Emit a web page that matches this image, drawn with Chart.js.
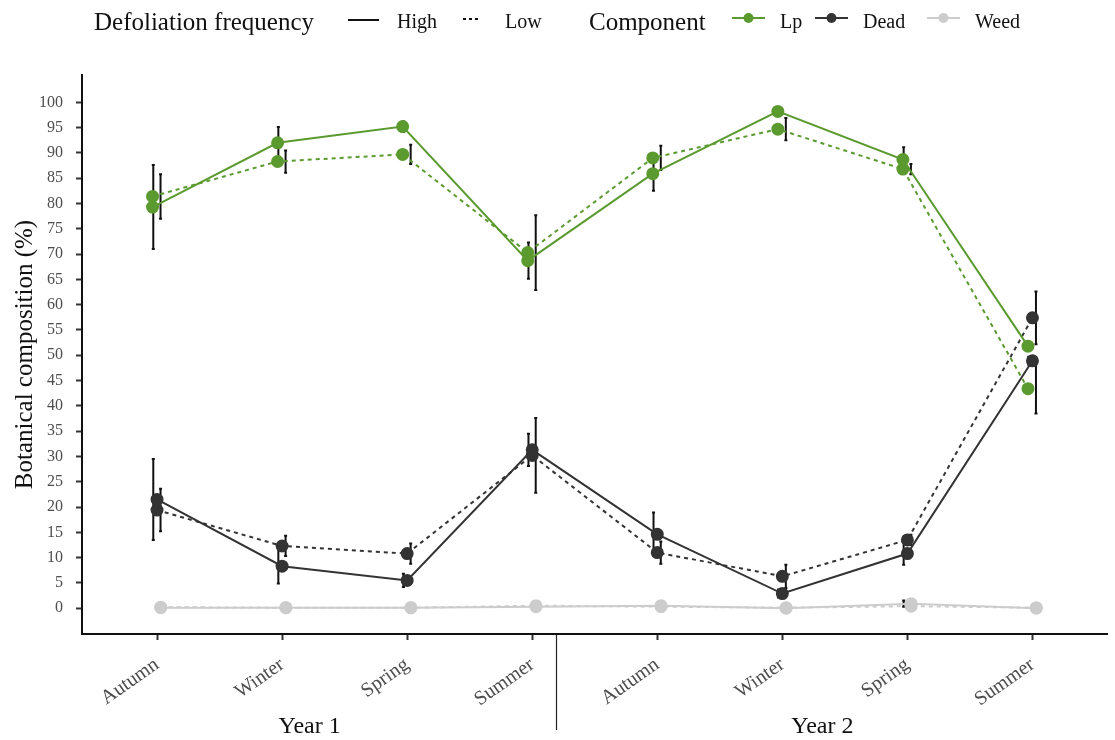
<!DOCTYPE html>
<html>
<head>
<meta charset="utf-8">
<title>Botanical composition</title>
<script src="https://cdn.jsdelivr.net/npm/chart.js@4.4.1/dist/chart.umd.min.js"></script>
<style>
  html, body { margin: 0; padding: 0; background: #fff; }
  canvas { display: block; }
</style>
</head>
<body>
<canvas id="c" width="1115" height="740"></canvas>
<script>
// Season labels along the x axis, and the year that each block of four belongs to
const seasons = ['Autumn', 'Winter', 'Spring', 'Summer', 'Autumn', 'Winter', 'Spring', 'Summer'];
const years = ['Year 1', 'Year 2'];
const yTicks = [0, 5, 10, 15, 20, 25, 30, 35, 40, 45, 50, 55, 60, 65, 70, 75, 80, 85, 90, 95, 100];

// Botanical composition (%) by component and defoliation frequency
const lpHigh   = [79.3, 92.0, 95.2, 68.7, 85.9, 98.2, 88.7, 51.8];
const lpLow    = [81.4, 88.3, 89.7, 70.3, 89.0, 94.7, 86.8, 43.4];
const deadHigh = [21.5, 8.3, 5.5, 31.3, 14.6, 2.9, 10.8, 48.9];
const deadLow  = [19.4, 12.3, 10.8, 30.2, 11.0, 6.3, 13.5, 57.4];
const weedHigh = [0.1, 0.1, 0.1, 0.3, 0.5, 0.0, 0.9, 0.0];
const weedLow  = [0.2, 0.1, 0.1, 0.5, 0.3, 0.1, 0.4, 0.1];

// Standard errors (half-length of each error bar)
const lpHighErr   = [8.3, 3.1, 1.0, 3.6, 3.4, 0.8, 2.4, 0.8];
const lpLowErr    = [4.4, 2.2, 1.9, 7.4, 2.4, 2.2, 1.0, 4.9];
const deadHighErr = [8.0, 3.4, 1.3, 3.2, 4.3, 0.8, 2.2, 0.8];
const deadLowErr  = [4.2, 2.0, 2.0, 7.4, 2.2, 2.3, 1.0, 5.2];
const weedHighErr = [0, 0, 0, 0, 0, 0, 0.6, 0];
const weedLowErr  = [0, 0, 0, 0, 0, 0, 0, 0];

const components = ['Lp', 'Dead', 'Weed'];
const frequencies = ['High', 'Low'];

const GREEN = '#5b9a2f';
const DARK = '#333333';
const LIGHT = '#cccccc';
const SERIF = '"Liberation Serif", "DejaVu Serif", serif';
const TICK_GREY = '#4d4d4d';

// small horizontal dodge so overlapping groups stay visible
const pointDodge = { Lp: -0.036, Dead: 0.0, Weed: 0.03 };
const barDodge = { High: -0.03, Low: 0.028 };

function makeSeries(values, errs, comp, freq, color) {
  return {
    label: comp + ' ' + freq,
    comp: comp,
    freq: freq,
    errs: errs,
    data: values.map((v, i) => ({ x: i + pointDodge[comp], y: v })),
    borderColor: color,
    backgroundColor: color,
    pointBackgroundColor: color,
    pointBorderColor: color,
    pointRadius: 5.5,
    pointHoverRadius: 5.5,
    borderWidth: 2,
    borderDash: freq === 'Low' ? [4, 4] : [],
    tension: 0,
    fill: false
  };
}

const datasets = [
  makeSeries(lpHigh, lpHighErr, 'Lp', 'High', GREEN),
  makeSeries(lpLow, lpLowErr, 'Lp', 'Low', GREEN),
  makeSeries(deadHigh, deadHighErr, 'Dead', 'High', DARK),
  makeSeries(deadLow, deadLowErr, 'Dead', 'Low', DARK),
  makeSeries(weedHigh, weedHighErr, 'Weed', 'High', LIGHT),
  makeSeries(weedLow, weedLowErr, 'Weed', 'Low', LIGHT)
];

// Vertical error bars, drawn under the lines and points
const errorBars = {
  id: 'errorBars',
  beforeDatasetsDraw(chart) {
    const ctx = chart.ctx;
    const xs = chart.scales.x, ys = chart.scales.y;
    ctx.save();
    ctx.strokeStyle = '#111';
    ctx.lineWidth = 2;
    chart.data.datasets.forEach(ds => {
      ds.data.forEach((p, i) => {
        const e = ds.errs[i];
        if (!e) return;
        const x = xs.getPixelForValue(i + barDodge[ds.freq]);
        const y1 = ys.getPixelForValue(p.y + e);
        const y2 = ys.getPixelForValue(p.y - e);
        ctx.beginPath();
        ctx.moveTo(x, y1); ctx.lineTo(x, y2);
        ctx.moveTo(x - 1.5, y1); ctx.lineTo(x + 1.5, y1);
        ctx.moveTo(x - 1.5, y2); ctx.lineTo(x + 1.5, y2);
        ctx.stroke();
      });
    });
    ctx.restore();
  }
};

// Legends across the top, year divider and year labels under the x axis
const decorations = {
  id: 'decorations',
  afterDraw(chart) {
    const ctx = chart.ctx;
    const xs = chart.scales.x;
    const area = chart.chartArea;
    ctx.save();

    // divider between the two years
    const sepX = Math.round(xs.getPixelForValue(3.19)) + 0.5;
    ctx.strokeStyle = '#222';
    ctx.lineWidth = 1.2;
    ctx.beginPath();
    ctx.moveTo(sepX, area.bottom + 1);
    ctx.lineTo(sepX, 730);
    ctx.stroke();

    ctx.fillStyle = '#111';
    ctx.font = '24px ' + SERIF;
    ctx.textAlign = 'center';
    ctx.textBaseline = 'middle';
    ctx.fillText(years[0], xs.getPixelForValue(1.22), 727);
    ctx.fillText(years[1], xs.getPixelForValue(5.32), 727);

    // legend: defoliation frequency
    const ly = 23;
    ctx.textAlign = 'left';
    ctx.font = '25px ' + SERIF;
    ctx.fillStyle = '#111';
    ctx.fillText('Defoliation frequency', 94, ly);
    ctx.font = '20px ' + SERIF;
    ctx.strokeStyle = '#111';
    ctx.lineWidth = 2;
    ctx.beginPath();
    ctx.moveTo(348, ly - 3); ctx.lineTo(379, ly - 3);
    ctx.stroke();
    ctx.fillText(frequencies[0], 397, ly);
    ctx.setLineDash([3, 3]);
    ctx.beginPath();
    ctx.moveTo(463, ly - 4); ctx.lineTo(481, ly - 4);
    ctx.stroke();
    ctx.setLineDash([]);
    ctx.fillText(frequencies[1], 505, ly);

    // legend: component
    ctx.font = '25px ' + SERIF;
    ctx.fillText('Component', 589, ly);
    ctx.font = '20px ' + SERIF;
    const comps = [
      { name: components[0], color: GREEN, x0: 732, tx: 780 },
      { name: components[1], color: DARK, x0: 815, tx: 863 },
      { name: components[2], color: LIGHT, x0: 927, tx: 975 }
    ];
    comps.forEach(c => {
      ctx.strokeStyle = c.color;
      ctx.fillStyle = c.color;
      ctx.lineWidth = 2;
      ctx.beginPath();
      ctx.moveTo(c.x0, ly - 5); ctx.lineTo(c.x0 + 33, ly - 5);
      ctx.stroke();
      ctx.beginPath();
      ctx.arc(c.x0 + 16.5, ly - 5, 5, 0, Math.PI * 2);
      ctx.fill();
      ctx.fillStyle = '#111';
      ctx.fillText(c.name, c.tx, ly);
    });
    ctx.restore();
  }
};

new Chart(document.getElementById('c'), {
  type: 'line',
  data: { datasets: datasets },
  plugins: [errorBars, decorations],
  options: {
    responsive: false,
    animation: false,
    devicePixelRatio: 1,
    layout: { padding: { top: 75, right: 3, left: 0, bottom: 0 } },
    plugins: {
      legend: { display: false },
      tooltip: { enabled: false },
      title: { display: false }
    },
    scales: {
      x: {
        type: 'linear',
        min: -0.6,
        max: 7.6,
        afterBuildTicks(scale) {
          scale.ticks = seasons.map((_, i) => ({ value: i }));
        },
        afterFit(scale) { scale.height = 106; },
        ticks: {
          autoSkip: false,
          minRotation: 35,
          maxRotation: 35,
          padding: 13,
          color: TICK_GREY,
          font: { family: SERIF, size: 20 },
          callback: (v) => seasons[v]
        },
        grid: {
          drawOnChartArea: false,
          drawTicks: true,
          tickLength: 6,
          tickColor: '#333',
          tickWidth: 2
        },
        border: { display: true, color: '#111', width: 2 }
      },
      y: {
        type: 'linear',
        min: -5.1,
        max: 105.4,
        afterBuildTicks(scale) {
          scale.ticks = yTicks.map(v => ({ value: v }));
        },
        afterFit(scale) { scale.width = 82; },
        title: {
          display: true,
          text: 'Botanical composition (%)',
          color: '#111',
          font: { family: SERIF, size: 25 },
          padding: { top: 10, bottom: 0 }
        },
        ticks: {
          padding: 13,
          color: TICK_GREY,
          font: { family: SERIF, size: 16 }
        },
        grid: {
          drawOnChartArea: false,
          drawTicks: true,
          tickLength: 6,
          tickColor: '#333',
          tickWidth: 2
        },
        border: { display: true, color: '#111', width: 2 }
      }
    }
  }
});
</script>
</body>
</html>
